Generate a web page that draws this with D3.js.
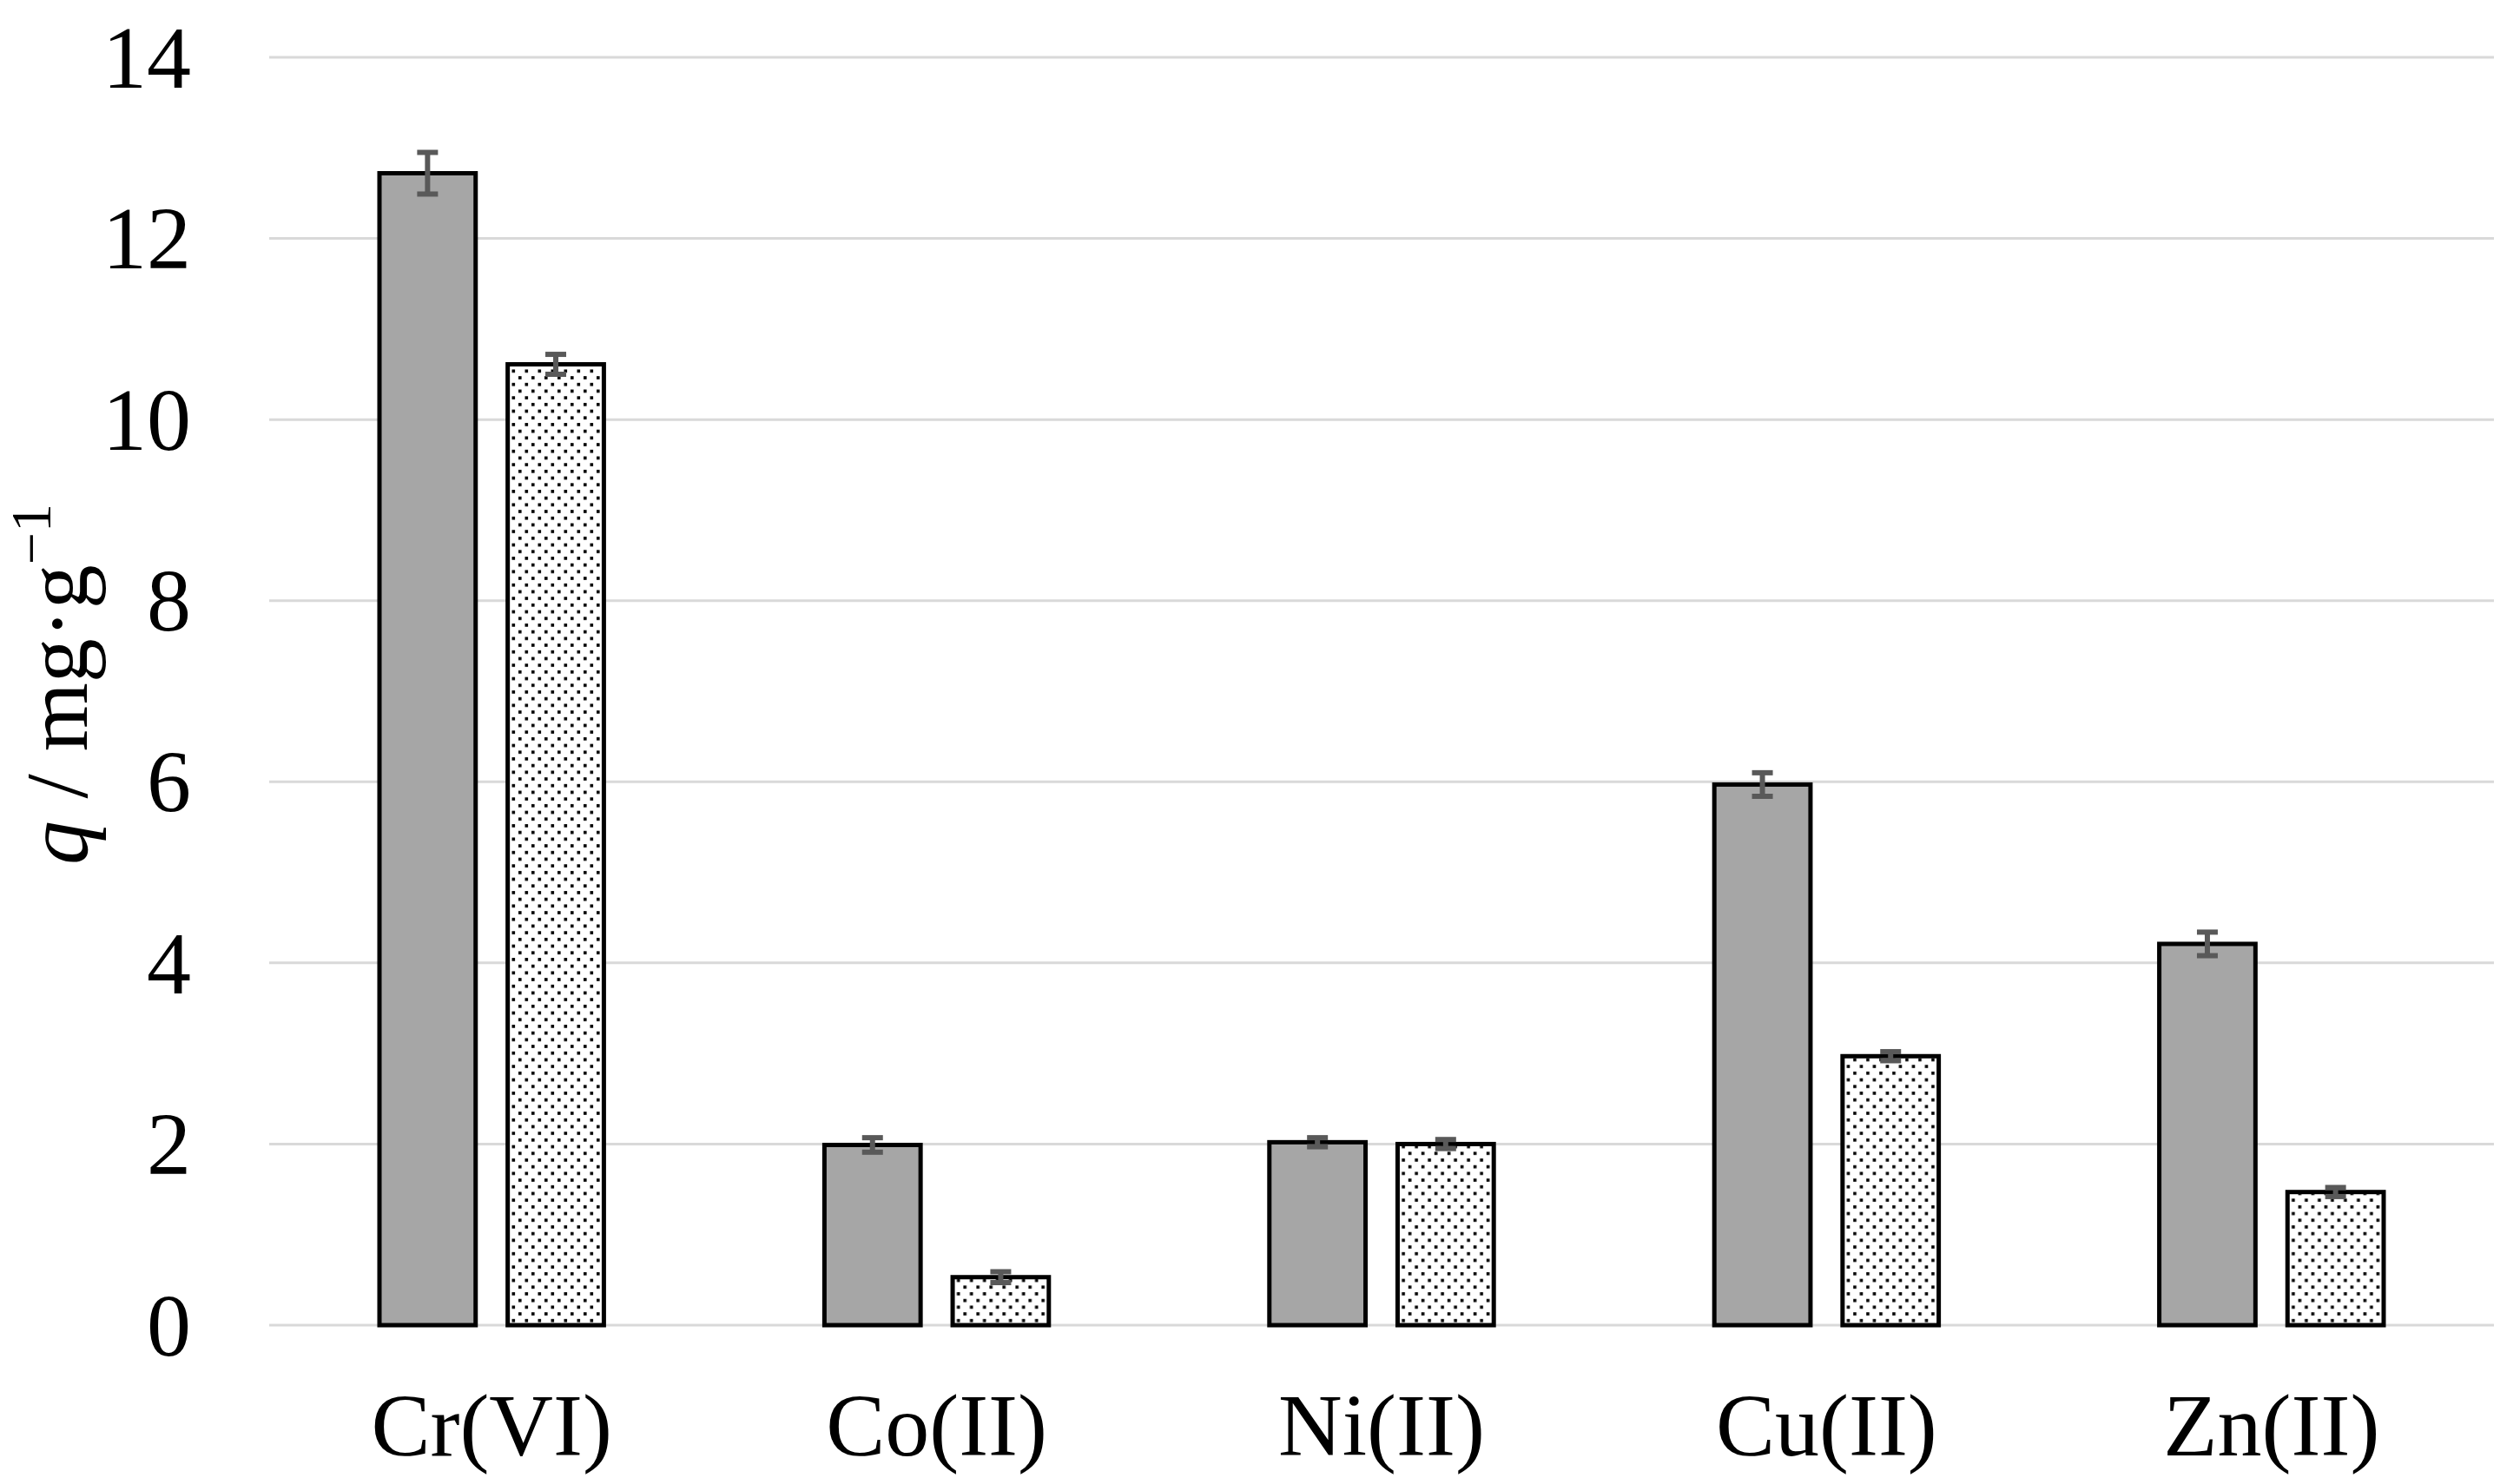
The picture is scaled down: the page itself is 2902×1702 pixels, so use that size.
<!DOCTYPE html>
<html>
<head>
<meta charset="utf-8">
<script src="https://cdn.jsdelivr.net/npm/d3@7"></script>
<style>
html,body{margin:0;padding:0;background:#fff;}
svg{display:block;}
text{font-family:"Liberation Serif","Times New Roman",serif;fill:#000;}
</style>
</head>
<body>
<svg id="chart" width="2902" height="1702"></svg>
<script>
const categories = ["Cr(VI)", "Co(II)", "Ni(II)", "Cu(II)", "Zn(II)"];
const seriesNames = ["solid", "dotted"];
const solidValues = [12.72, 1.99, 2.02, 5.97, 4.21];
const solidErrors = [0.23, 0.08, 0.05, 0.13, 0.13];
const dottedValues = [10.61, 0.53, 2.00, 2.97, 1.47];
const dottedErrors = [0.11, 0.06, 0.05, 0.05, 0.05];
const yTicks = [0, 2, 4, 6, 8, 10, 12, 14];

const W = 2902, H = 1702;
const m = {left: 310, right: 30, top: 66, bottom: 176};
const svg = d3.select("#chart");

const defs = svg.append("defs");
const pat = defs.append("pattern").attr("id", "dots").attr("patternUnits", "userSpaceOnUse")
  .attr("width", 15).attr("height", 15.4);
pat.append("rect").attr("width", 15).attr("height", 15.4).attr("fill", "#fff");
pat.append("rect").attr("x", 2).attr("y", 2).attr("width", 3.6).attr("height", 3.6).attr("fill", "#000");
pat.append("rect").attr("x", 9.5).attr("y", 9.7).attr("width", 3.6).attr("height", 3.6).attr("fill", "#000");

const x0 = d3.scaleBand().domain(categories).range([m.left, W - m.right]).paddingInner(0).paddingOuter(0);
const x1 = d3.scaleBand().domain(seriesNames).range([0, x0.bandwidth()]).paddingInner(0.25).paddingOuter(0.86);
const y = d3.scaleLinear().domain([0, 14]).range([H - m.bottom, m.top]);

// gridlines
svg.append("g").selectAll("line").data(yTicks).join("line")
  .attr("x1", m.left).attr("x2", W - m.right)
  .attr("y1", d => y(d)).attr("y2", d => y(d))
  .attr("stroke", "#d9d9d9").attr("stroke-width", 3);

// y tick labels
svg.append("g").selectAll("text").data(yTicks).join("text")
  .attr("x", 220).attr("y", d => y(d)).attr("dy", "0.34em")
  .attr("text-anchor", "end").attr("font-size", 102).text(d => d);

// bars
const rows = categories.map((c, i) => ({
  cat: c,
  items: [
    {s: "solid", v: solidValues[i], e: solidErrors[i]},
    {s: "dotted", v: dottedValues[i], e: dottedErrors[i]}
  ]
}));
const groups = svg.append("g").selectAll("g").data(rows).join("g")
  .attr("transform", d => `translate(${x0(d.cat)},0)`);
groups.selectAll("rect").data(d => d.items).join("rect")
  .attr("x", d => x1(d.s)).attr("width", x1.bandwidth())
  .attr("y", d => y(d.v)).attr("height", d => y(0) - y(d.v))
  .attr("fill", d => d.s === "solid" ? "#a6a6a6" : "url(#dots)")
  .attr("stroke", "#000").attr("stroke-width", 5);

// error bars
const eb = groups.selectAll("g.err").data(d => d.items).join("g").attr("class", "err");
const cx = d => x1(d.s) + x1.bandwidth() / 2;
eb.append("line").attr("x1", cx).attr("x2", cx)
  .attr("y1", d => y(d.v + d.e)).attr("y2", d => y(d.v - d.e))
  .attr("stroke", "#595959").attr("stroke-width", 6);
eb.append("line").attr("x1", d => cx(d) - 12).attr("x2", d => cx(d) + 12)
  .attr("y1", d => y(d.v + d.e)).attr("y2", d => y(d.v + d.e))
  .attr("stroke", "#595959").attr("stroke-width", 6);
eb.append("line").attr("x1", d => cx(d) - 12).attr("x2", d => cx(d) + 12)
  .attr("y1", d => y(d.v - d.e)).attr("y2", d => y(d.v - d.e))
  .attr("stroke", "#595959").attr("stroke-width", 6);

// category labels
svg.append("g").selectAll("text").data(categories).join("text")
  .attr("x", d => x0(d) + x0.bandwidth() / 2).attr("y", 1676)
  .attr("text-anchor", "middle").attr("font-size", 102).text(d => d);

// y axis label
const yl = svg.append("text").attr("transform", "translate(100,788) rotate(-90)")
  .attr("text-anchor", "middle").attr("font-size", 102);
yl.append("tspan").attr("font-style", "italic").text("q");
yl.append("tspan").text(" / mg·g");
yl.append("tspan").attr("font-size", 66).attr("dy", -42).text("−1");
</script>
</body>
</html>
